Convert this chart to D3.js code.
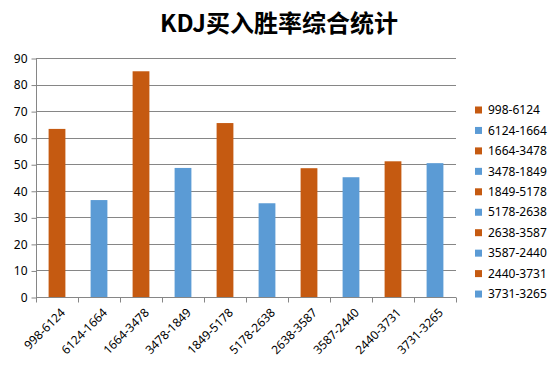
<!DOCTYPE html>
<html>
<head>
<meta charset="utf-8">
<script src="https://cdn.jsdelivr.net/npm/d3@7"></script>
<style>
	body { margin: 0; background: #fff; }
	text { font-family: "Noto Sans", "Noto Sans CJK SC", sans-serif; }
</style>
</head>
<body>
<div id="chart"></div>
<script>
// 数据
var title = 'KDJ买入胜率综合统计';
var categories = ['998-6124', '6124-1664', '1664-3478', '3478-1849', '1849-5178',
	'5178-2638', '2638-3587', '3587-2440', '2440-3731', '3731-3265'];
var values = [63.3, 36.5, 85.0, 48.6, 65.5, 35.3, 48.5, 45.1, 51.1, 50.4];
var yTicks = [0, 10, 20, 30, 40, 50, 60, 70, 80, 90];
var palette = ['#C55A11', '#5B9BD5'];

var width = 559, height = 373;
var plot = { left: 36, right: 456, top: 58, bottom: 297 };

var svg = d3.select('#chart')
	.append('svg')
	.attr('width', width)
	.attr('height', height);

// 标题
svg.append('text')
	.attr('x', 279)
	.attr('y', 32)
	.attr('text-anchor', 'middle')
	.style('font-family', '"Noto Sans CJK SC", sans-serif')
	.style('font-weight', 'bold')
	.style('font-size', '24px')
	.text(title);

var x = d3.scaleBand()
	.domain(categories)
	.range([plot.left, plot.right]);

var y = d3.scaleLinear()
	.domain([0, 90])
	.range([plot.bottom, plot.top]);

// 网格线
svg.append('g')
	.selectAll('line')
	.data(yTicks.slice(1))
	.enter()
	.append('line')
	.attr('x1', plot.left)
	.attr('x2', plot.right)
	.attr('y1', function(d) { return Math.round(y(d)) + 0.5; })
	.attr('y2', function(d) { return Math.round(y(d)) + 0.5; })
	.attr('stroke', '#868686')
	.attr('stroke-width', 1);

// y轴
var yAxis = d3.axisLeft(y)
	.tickValues(yTicks)
	.tickSize(5)
	.tickPadding(4);
var gy = svg.append('g')
	.attr('transform', 'translate(' + (plot.left + 0.5) + ',0.5)')
	.call(yAxis);
gy.selectAll('path, line').attr('stroke', '#868686');
gy.selectAll('text')
	.style('font-size', '12px')
	.attr('fill', '#000');
gy.select('.domain').attr('d', 'M0,' + Math.round(plot.top) + 'V' + Math.round(plot.bottom));

// 柱子
svg.append('g')
	.selectAll('rect')
	.data(values)
	.enter()
	.append('rect')
	.attr('x', function(d, i) { return x(categories[i]) + x.bandwidth() * 0.3; })
	.attr('width', x.bandwidth() * 0.4)
	.attr('y', function(d) { return y(d); })
	.attr('height', function(d) { return y(0) - y(d); })
	.attr('fill', function(d, i) { return palette[i % 2]; });

// x轴
var gx = svg.append('g')
	.attr('transform', 'translate(0,' + (Math.round(plot.bottom) + 0.5) + ')');
gx.append('line')
	.attr('x1', plot.left)
	.attr('x2', plot.right)
	.attr('stroke', '#868686');
var edges = categories.map(function(c) { return x(c); }).concat([plot.right]);
gx.selectAll('.tick')
	.data(edges)
	.enter()
	.append('line')
	.attr('class', 'tick')
	.attr('x1', function(d) { return Math.round(d) + 0.5; })
	.attr('x2', function(d) { return Math.round(d) + 0.5; })
	.attr('y1', 0)
	.attr('y2', 5)
	.attr('stroke', '#868686');
gx.selectAll('.label')
	.data(categories)
	.enter()
	.append('text')
	.attr('class', 'label')
	.attr('text-anchor', 'end')
	.attr('transform', function(d) {
		return 'translate(' + (x(d) + x.bandwidth() / 2 + 6) + ',13) rotate(-45)';
	})
	.attr('dy', '0.35em')
	.style('font-size', '12px')
	.text(function(d) { return d; });

// 图例
var legend = svg.append('g')
	.selectAll('g')
	.data(categories)
	.enter()
	.append('g')
	.attr('transform', function(d, i) {
		return 'translate(475,' + (110 + i * 20.45) + ')';
	});
legend.append('rect')
	.attr('x', 0)
	.attr('y', -3.5)
	.attr('width', 7)
	.attr('height', 7)
	.attr('fill', function(d, i) { return palette[i % 2]; });
legend.append('text')
	.attr('x', 13)
	.attr('dy', '0.35em')
	.style('font-size', '12px')
	.text(function(d) { return d; });
</script>
</body>
</html>
